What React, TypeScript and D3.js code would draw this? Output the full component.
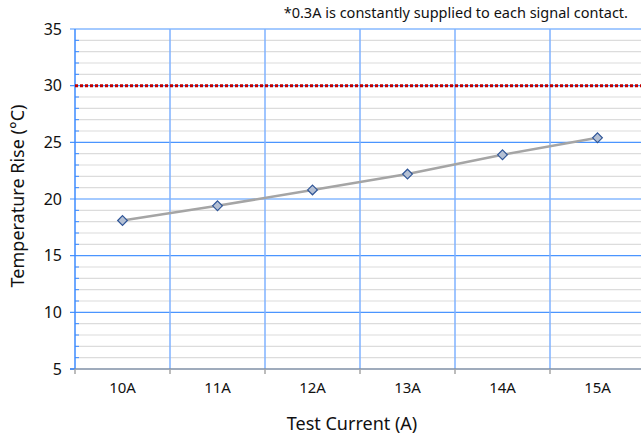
import { useRef, useEffect } from 'react';
import * as d3 from 'd3';

const categories = ['10A', '11A', '12A', '13A', '14A', '15A'];
const riseValues = [18.1, 19.4, 20.8, 22.2, 23.9, 25.4];
const yTicks = [5, 10, 15, 20, 25, 30, 35];
const limitValue = 30;
const noteText = '*0.3A is constantly supplied to each signal contact.';

export default function App() {
  const svgRef = useRef<SVGSVGElement>(null);

  const width = 641;
  const height = 434;

  useEffect(() => {
    document.body.style.margin = '0';
    if (!svgRef.current) return;
    const svg = d3.select(svgRef.current);
    svg.selectAll('*').remove();

    const margin = { top: 29, right: -4, bottom: 65, left: 75 };
    const innerWidth = width - margin.left - margin.right;
    const innerHeight = height - margin.top - margin.bottom;
    const font = '"Noto Sans", "Open Sans", sans-serif';

    const g = svg.append('g').attr('transform', `translate(${margin.left},${margin.top})`);

    const x = d3.scaleBand<string>().domain(categories).range([0, innerWidth]);
    const y = d3.scaleLinear().domain([5, 35]).range([innerHeight, 0]);

    // minor gridlines
    const minor = d3.range(6, 35).filter(v => v % 5 !== 0);
    g.selectAll('.minor')
      .data(minor)
      .enter()
      .append('line')
      .attr('x1', 0)
      .attr('x2', innerWidth)
      .attr('y1', d => y(d))
      .attr('y2', d => y(d))
      .attr('stroke', '#dcdcdc')
      .attr('stroke-width', 1.2);

    // minor ticks (inside)
    g.selectAll('.minor-tick')
      .data(minor)
      .enter()
      .append('line')
      .attr('x1', 0)
      .attr('x2', 4)
      .attr('y1', d => y(d))
      .attr('y2', d => y(d))
      .attr('stroke', '#3d8bff')
      .attr('stroke-width', 1);

    // major gridlines
    g.selectAll('.major')
      .data(yTicks.filter(v => v !== 5))
      .enter()
      .append('line')
      .attr('x1', -5)
      .attr('x2', innerWidth)
      .attr('y1', d => y(d))
      .attr('y2', d => y(d))
      .attr('stroke', '#4a95ff')
      .attr('stroke-width', 1.2);

    // vertical category boundaries
    const bounds = categories.map(c => x(c) as number);
    g.selectAll('.vline')
      .data(bounds.slice(1))
      .enter()
      .append('line')
      .attr('x1', d => d)
      .attr('x2', d => d)
      .attr('y1', 0)
      .attr('y2', innerHeight)
      .attr('stroke', '#7fb2ff')
      .attr('stroke-width', 1.5);

    // left axis line
    g.append('line')
      .attr('x1', 0)
      .attr('x2', 0)
      .attr('y1', 0)
      .attr('y2', innerHeight)
      .attr('stroke', '#3d8bff')
      .attr('stroke-width', 1.5);

    // bottom axis line
    g.append('line')
      .attr('x1', -5)
      .attr('x2', innerWidth)
      .attr('y1', innerHeight)
      .attr('y2', innerHeight)
      .attr('stroke', '#7f8fa6')
      .attr('stroke-width', 1.5);

    g.append('line')
      .attr('x1', -5)
      .attr('x2', 0)
      .attr('y1', innerHeight)
      .attr('y2', innerHeight)
      .attr('stroke', '#3d8bff')
      .attr('stroke-width', 1.5);

    // bottom ticks
    g.selectAll('.xtick')
      .data(bounds)
      .enter()
      .append('line')
      .attr('x1', d => d)
      .attr('x2', d => d)
      .attr('y1', innerHeight)
      .attr('y2', innerHeight + 5)
      .attr('stroke', '#a6a6a6')
      .attr('stroke-width', 1.5);

    // y labels
    g.selectAll('.ylabel')
      .data(yTicks)
      .enter()
      .append('text')
      .attr('x', -13)
      .attr('y', d => y(d))
      .attr('dy', '0.35em')
      .attr('text-anchor', 'end')
      .attr('font-family', font)
      .attr('font-size', '16px')
      .attr('fill', '#111')
      .text(d => d);

    // x labels
    g.selectAll('.xlabel')
      .data(categories)
      .enter()
      .append('text')
      .attr('x', d => (x(d) as number) + x.bandwidth() / 2)
      .attr('y', innerHeight + 24)
      .attr('text-anchor', 'middle')
      .attr('font-family', font)
      .attr('font-size', '15px')
      .attr('fill', '#111')
      .text(d => d);

    // limit line
    g.append('line')
      .attr('x1', 0)
      .attr('x2', innerWidth)
      .attr('y1', y(limitValue))
      .attr('y2', y(limitValue))
      .attr('stroke', '#c00000')
      .attr('stroke-width', 3)
      .attr('stroke-dasharray', '3,2');

    // series line
    const pts = categories.map((c, i) => ({ c, v: riseValues[i] }));
    const line = d3.line<{ c: string; v: number }>()
      .x(d => (x(d.c) as number) + x.bandwidth() / 2)
      .y(d => y(d.v));

    g.append('path')
      .datum(pts)
      .attr('fill', 'none')
      .attr('stroke', '#a5a5a5')
      .attr('stroke-width', 2.5)
      .attr('d', line);

    // markers
    const diamond = d3.symbol().type(d3.symbolDiamond2).size(60);
    g.selectAll('.marker')
      .data(pts)
      .enter()
      .append('path')
      .attr('d', diamond as any)
      .attr('transform', d => `translate(${(x(d.c) as number) + x.bandwidth() / 2},${y(d.v)})`)
      .attr('fill', '#b4c0d4')
      .attr('stroke', '#2f5597')
      .attr('stroke-width', 1.2);

    // axis titles
    svg.append('text')
      .attr('transform', `translate(24,${margin.top + innerHeight / 2 - 3}) rotate(-90)`)
      .attr('text-anchor', 'middle')
      .attr('font-family', font)
      .attr('font-size', '18px')
      .attr('fill', '#111')
      .text('Temperature Rise (°C)');

    svg.append('text')
      .attr('x', 352)
      .attr('y', 430)
      .attr('text-anchor', 'middle')
      .attr('font-family', font)
      .attr('font-size', '18px')
      .attr('fill', '#111')
      .text('Test Current (A)');

    svg.append('text')
      .attr('x', 628)
      .attr('y', 18)
      .attr('text-anchor', 'end')
      .attr('font-family', font)
      .attr('font-size', '14.5px')
      .attr('fill', '#111')
      .text(noteText);
  }, []);

  return <svg ref={svgRef} width={width} height={height} style={{ display: 'block' }} />;
}
